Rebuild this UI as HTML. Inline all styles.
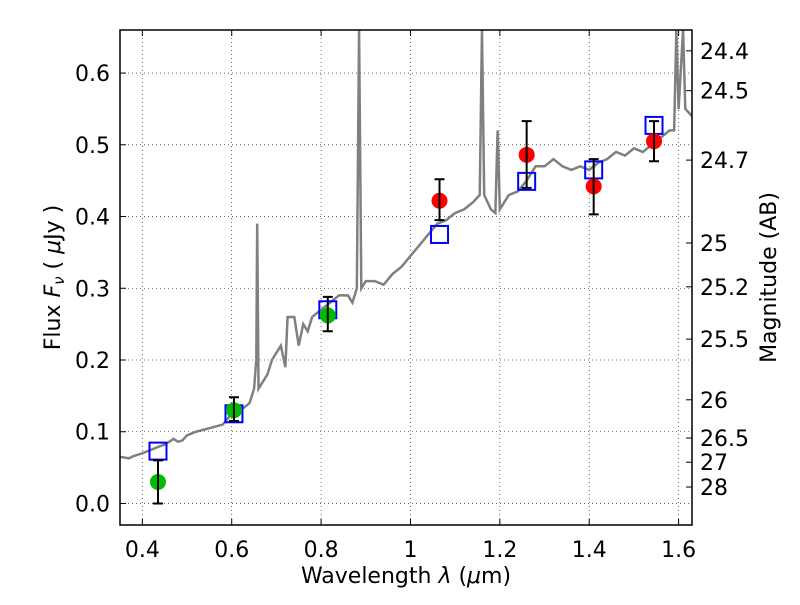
<!DOCTYPE html>
<html><head><meta charset="utf-8"><style>
body{margin:0;background:#fff}
svg text{font-family:"DejaVu Sans","Liberation Sans",sans-serif;fill:#000}
</style></head><body>
<svg id="c" width="800" height="600" xmlns="http://www.w3.org/2000/svg"></svg>
<script>
const specWave=[0.35,0.37,0.38,0.40,0.42,0.44,0.45,0.47,0.48,0.49,0.50,0.52,0.55,0.58,0.60,0.62,0.64,0.65,0.655,0.657,0.66,0.67,0.68,0.69,0.70,0.71,0.72,0.725,0.74,0.75,0.76,0.77,0.78,0.80,0.82,0.84,0.86,0.87,0.88,0.885,0.89,0.90,0.92,0.94,0.96,0.98,1.0,1.02,1.04,1.06,1.08,1.10,1.12,1.14,1.155,1.16,1.165,1.18,1.19,1.195,1.2,1.22,1.24,1.26,1.28,1.30,1.32,1.34,1.36,1.38,1.40,1.42,1.44,1.46,1.48,1.50,1.52,1.54,1.56,1.58,1.59,1.595,1.60,1.61,1.615,1.63];
const specFlux=[0.065,0.063,0.066,0.07,0.075,0.08,0.082,0.09,0.086,0.088,0.095,0.1,0.105,0.11,0.125,0.13,0.14,0.16,0.2,0.39,0.16,0.17,0.18,0.2,0.21,0.22,0.19,0.26,0.26,0.22,0.25,0.24,0.26,0.27,0.28,0.29,0.29,0.28,0.3,0.66,0.3,0.31,0.31,0.305,0.32,0.33,0.345,0.36,0.375,0.39,0.395,0.405,0.41,0.42,0.43,0.66,0.43,0.41,0.405,0.52,0.41,0.43,0.435,0.45,0.47,0.47,0.48,0.47,0.465,0.47,0.465,0.475,0.48,0.49,0.485,0.495,0.49,0.5,0.51,0.52,0.52,0.66,0.55,0.66,0.55,0.54];
const obsWave=[0.435,0.605,0.815,1.065,1.26,1.41,1.545];
const obsFlux=[0.03,0.13,0.262,0.422,0.486,0.442,0.505];
const obsLo=[0.0,0.115,0.24,0.395,0.44,0.403,0.477];
const obsHi=[0.06,0.148,0.288,0.452,0.533,0.48,0.533];
const obsColor=['#00bb00','#00bb00','#00bb00','#ff0000','#ff0000','#ff0000','#ff0000'];
const modelFlux=[0.073,0.125,0.27,0.375,0.449,0.465,0.527];
const xTicks=[0.4,0.6,0.8,1.0,1.2,1.4,1.6];
const xTickLabels=['0.4','0.6','0.8','1','1.2','1.4','1.6'];
const yTicks=[0,0.1,0.2,0.3,0.4,0.5,0.6];
const yTickLabels=['0.0','0.1','0.2','0.3','0.4','0.5','0.6'];
const magTicks=[24.4,24.5,24.7,25,25.2,25.5,26,26.5,27,28];

const L=120,R=692,T=30,B=525,x0=0.35,x1=1.63,y0=-0.03,y1=0.66;
const X=v=>L+(v-x0)/(x1-x0)*(R-L);
const Y=v=>B-(v-y0)/(y1-y0)*(B-T);
const svg=document.getElementById('c');
const NS='http://www.w3.org/2000/svg';
function mk(t,a,p){const e=document.createElementNS(NS,t);for(const k in a)e.setAttribute(k,a[k]);(p||svg).appendChild(e);return e;}
const cp=mk('clipPath',{id:'clip'});mk('rect',{x:L,y:T,width:R-L,height:B-T},cp);
xTicks.forEach((v,i)=>{
 const g=mk('line',{x1:X(v),x2:X(v),y1:T,y2:B,stroke:'#000','stroke-width':0.6,'stroke-dasharray':'1,3'});
 
 mk('line',{x1:X(v),x2:X(v),y1:B,y2:B-6,stroke:'#000'});mk('line',{x1:X(v),x2:X(v),y1:T,y2:T+6,stroke:'#000'});
 const t=mk('text',{x:X(v),y:B+32,'font-size':22,'text-anchor':'middle'});t.textContent=xTickLabels[i];
 
});
yTicks.forEach((v,i)=>{
 const g=mk('line',{x1:L,x2:R,y1:Y(v),y2:Y(v),stroke:'#000','stroke-width':0.6,'stroke-dasharray':'1,3'});
 
 mk('line',{x1:L,x2:L+6,y1:Y(v),y2:Y(v),stroke:'#000'});
 const t=mk('text',{x:L-10,y:Y(v)+8,'font-size':22,'text-anchor':'end'});t.textContent=yTickLabels[i];
 
});
magTicks.forEach(m=>{
 const f=Math.pow(10,(23.9-m)/2.5);const y=Y(f);
 mk('line',{x1:R,x2:R-6,y1:y,y2:y,stroke:'#000'});
 const t=mk('text',{x:R+8,y:y+8,'font-size':22});t.textContent=String(m);
 
});
const sp=mk('polyline',{points:specWave.map((w,i)=>X(w)+','+Y(specFlux[i])).join(' '),fill:'none',stroke:'#808080','stroke-width':2.5,'clip-path':'url(#clip)'});

modelFlux.forEach((f,i)=>{
 const s=mk('rect',{x:X(obsWave[i])-8.5,y:Y(f)-8.5,width:17,height:17,fill:'none',stroke:'#0000ff','stroke-width':2});
 
});
obsWave.forEach((w,i)=>{
 const cx=X(w);
 const c=mk('circle',{cx:cx,cy:Y(obsFlux[i]),r:8,fill:obsColor[i]});
 
 const e=mk('path',{d:`M${cx},${Y(obsLo[i])}V${Y(obsHi[i])}M${cx-5},${Y(obsLo[i])}H${cx+5}M${cx-5},${Y(obsHi[i])}H${cx+5}`,stroke:'#000','stroke-width':2,fill:'none'});
 
});
const fr=mk('rect',{x:L,y:T,width:R-L,height:B-T,fill:'none',stroke:'#000','stroke-width':1.5});

const xt=mk('text',{x:(L+R)/2,y:583,'font-size':22,'text-anchor':'middle'});
xt.innerHTML='Wavelength  <tspan font-style="italic">λ</tspan> (<tspan font-style="italic">μ</tspan>m)';

const yt=mk('text',{x:0,y:0,'font-size':22,'text-anchor':'middle',transform:`translate(60,${(T+B)/2}) rotate(-90)`});
yt.innerHTML='Flux  <tspan font-style="italic">F</tspan><tspan font-style="italic" font-size="15" dy="4">ν</tspan><tspan dy="-4">  ( </tspan><tspan font-style="italic">μ</tspan>Jy )';

const rt=mk('text',{x:0,y:0,'font-size':22,'text-anchor':'middle',transform:`translate(776,${(T+B)/2}) rotate(-90)`});
rt.textContent='Magnitude (AB)';

</script>
</body></html>
